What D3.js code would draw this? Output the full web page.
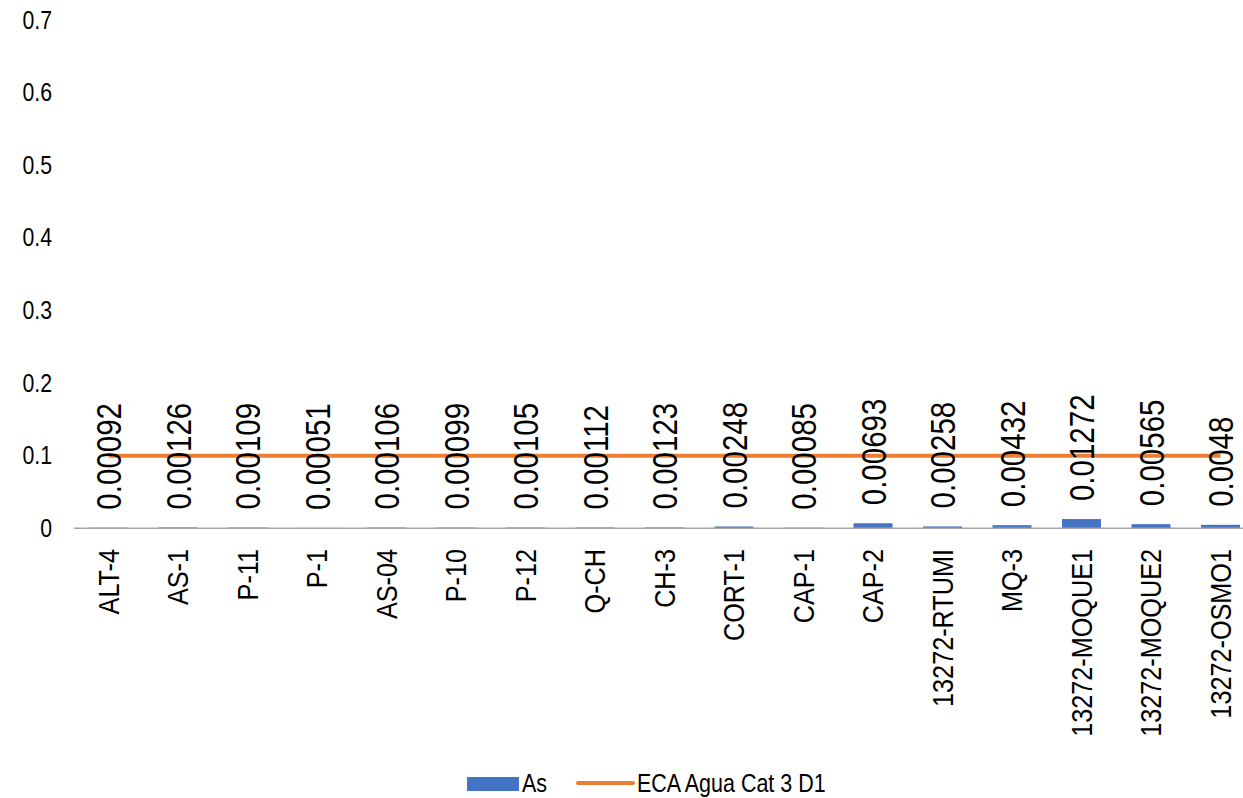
<!DOCTYPE html>
<html>
<head>
<meta charset="utf-8">
<script src="https://cdn.jsdelivr.net/npm/d3@7/dist/d3.min.js"></script>
<style>
  html, body { margin: 0; padding: 0; background: #fff; }
  svg { display: block; }
  text { font-family: "Liberation Sans", Arial, sans-serif; fill: #000; }
</style>
</head>
<body>
<svg id="chart" width="1243" height="798"></svg>
<script>
const categories = ["ALT-4","AS-1","P-11","P-1","AS-04","P-10","P-12","Q-CH","CH-3","CORT-1","CAP-1","CAP-2","13272-RTUMI","MQ-3","13272-MOQUE1","13272-MOQUE2","13272-OSMO1"];
const asValues = [0.00092,0.00126,0.00109,0.00051,0.00106,0.00099,0.00105,0.00112,0.00123,0.00248,0.00085,0.00693,0.00258,0.00432,0.01272,0.00565,0.0048];
const ecaValues = [0.1,0.1,0.1,0.1,0.1,0.1,0.1,0.1,0.1,0.1,0.1,0.1,0.1,0.1,0.1,0.1,0.1];
const yTicks = [0,0.1,0.2,0.3,0.4,0.5,0.6,0.7];
const seriesNames = ["As","ECA Agua Cat 3 D1"];

const svg = d3.select("#chart");
const xc = d3.scalePoint().domain(categories).range([108.5, 1220.5]);
const y = d3.scaleLinear().domain([0, 0.7]).range([528.3, 20.1]);

// y axis labels (no line)
const yAxis = d3.axisLeft(y).tickValues(yTicks).tickSize(0).tickPadding(0).tickFormat(d => d === 0 ? "0" : d3.format(".1f")(d));
const ya = svg.append("g").attr("transform", "translate(52,0)").call(yAxis);
ya.select(".domain").remove();
ya.selectAll("text").attr("font-size", 25).attr("font-family", "Liberation Sans, Arial, sans-serif")
  .attr("fill", "#000").attr("transform", "scale(0.85,1)");

// bars
svg.append("g").selectAll("rect").data(categories).join("rect")
  .attr("x", (d) => xc(d) - 19.5)
  .attr("width", 39)
  .attr("y", (d, i) => y(asValues[i]))
  .attr("height", (d, i) => y(0) - y(asValues[i]))
  .attr("fill", "#4472C4");

// x axis line
svg.append("line").attr("x1", 74).attr("x2", 1255).attr("y1", y(0)).attr("y2", y(0))
  .attr("stroke", "#A6A6A6").attr("stroke-width", 1.5);

// line series
const line = d3.line().x((d, i) => xc(categories[i])).y(d => y(d));
svg.append("path").datum(ecaValues).attr("d", line)
  .attr("fill", "none").attr("stroke", "#ED7D31").attr("stroke-width", 4);

// data labels
svg.append("g").selectAll("text").data(categories).join("text")
  .attr("transform", (d, i) => `translate(${xc(d)},${y(asValues[i]) - 18}) rotate(-90) scale(0.82,1)`)
  .attr("dy", "0.36em")
  .attr("text-anchor", "start")
  .attr("font-size", 36)
  .text((d, i) => String(asValues[i]));

// category labels
svg.append("g").selectAll("text").data(categories).join("text")
  .attr("transform", d => `translate(${xc(d)},549) rotate(-90) scale(0.87,1)`)
  .attr("dy", "0.36em")
  .attr("text-anchor", "end")
  .attr("font-size", 29)
  .text(d => d);

// legend
const lg = svg.append("g");
lg.append("rect").attr("x", 467).attr("y", 777).attr("width", 52).attr("height", 14).attr("fill", "#4472C4");
lg.append("text").attr("transform", "translate(522,792) scale(0.86,1)").attr("font-size", 25).text(seriesNames[0]);
lg.append("line").attr("x1", 578).attr("x2", 633).attr("y1", 783).attr("y2", 783).attr("stroke", "#ED7D31").attr("stroke-width", 4).attr("stroke-linecap", "round");
lg.append("text").attr("transform", "translate(637,792) scale(0.86,1)").attr("font-size", 25).text(seriesNames[1]);
</script>
</body>
</html>
